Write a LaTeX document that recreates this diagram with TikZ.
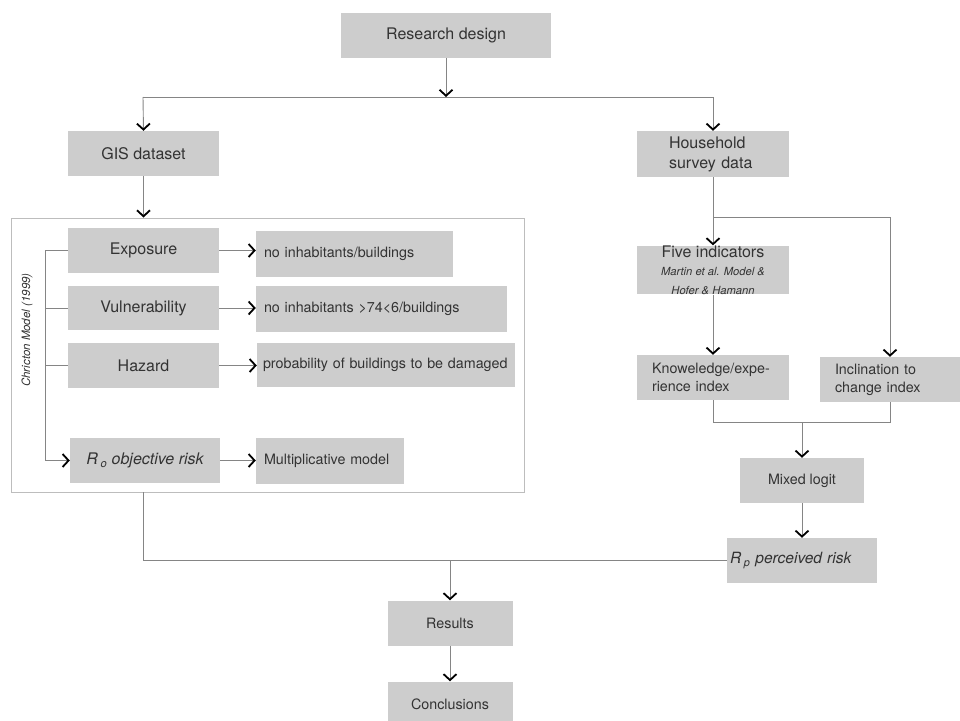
\documentclass[tikz,border=0pt]{standalone}
\usepackage{fontspec}
\setmainfont{TeX Gyre Heros}
\usetikzlibrary{arrows.meta}
\definecolor{boxgrey}{HTML}{CDCDCD}
\definecolor{linegrey}{HTML}{858585}
\definecolor{framegrey}{HTML}{BDBDBD}
\definecolor{txt}{HTML}{333333}
\begin{document}
\begin{tikzpicture}[x=1pt,y=-1pt,
  box/.style={fill=boxgrey, draw=none, inner sep=0pt, text=txt,
    font=\fontsize{16}{20}\selectfont, align=center},
  sbox/.style={box, font=\fontsize{14.3}{18}\selectfont},
  lbox/.style={sbox, align=left},
  conn/.style={draw=linegrey, line width=0.9pt},
  arr/.style={conn, -{Straight Barb[length=6pt,width=13pt,line width=1.8pt,color=black]}},
  framebox/.style={draw=framegrey, line width=1pt, fill=none, inner sep=0pt},
  sidelabel/.style={text=txt, font=\itshape\fontsize{11.5}{13}\selectfont, rotate=90, inner sep=0pt}
]
\useasboundingbox (0,0) rectangle (960,720);

% top
\node[box, minimum width=210, minimum height=45] (rd) at (446,35.5) {Research design};
\coordinate (jt) at (446,97);
\coordinate (jl) at (143,97);
\coordinate (jr) at (713,97);

\node[box, minimum width=151, minimum height=45] (gis) at (143.5,153.5) {GIS dataset};
\node[box, align=left, minimum width=152, minimum height=46, text width=88, inner xsep=32] (hh) at (713,154) {Household\\survey data};

\draw[arr] (rd.south) -- (jt);
\draw[conn] (jl) -- (jr);
\draw[arr] (jl) -- (gis.north);
\draw[arr] (jr) -- (hh.north);

% left frame
\node[framebox, minimum width=513, minimum height=274] (frame) at (267.5,355) {};
\draw[arr] (gis.south) -- (gis.south |- frame.north);

\node[box, minimum width=151, minimum height=45] (ex) at (143.5,250.5) {Exposure};
\node[box, minimum width=151, minimum height=44] (vu) at (143.5,308) {Vulnerability};
\node[box, minimum width=151, minimum height=45] (hz) at (143.5,365.5) {Hazard};
\node[box, minimum width=150, minimum height=45] (ro) at (145,460.5) {\itshape R\,\textsubscript{o} objective risk};

\node[lbox, minimum width=189, minimum height=46, text width=181, inner xsep=8] (e1) at (354.5,254) {no inhabitants/buildings};
\node[lbox, minimum width=243, minimum height=46, text width=235, inner xsep=8] (e2) at (381.5,309) {no inhabitants >74<6/buildings};
\node[lbox, minimum width=252, minimum height=44, text width=246, inner xsep=6] (e3) at (386,365) {probability of buildings to be damaged};
\node[lbox, minimum width=140, minimum height=46, text width=132, inner xsep=8] (e4) at (330,461) {Multiplicative model};

\draw[arr] (ex.east) -- (ex.east -| e1.west);
\draw[arr] (vu.east) -- (vu.east -| e2.west);
\draw[arr] (hz.east) -- (hz.east -| e3.west);
\draw[arr] (ro.east) -- (ro.east -| e4.west);

\coordinate (bt) at (45,250.5);
\draw[conn] (ex.west) -- (bt);
\draw[arr] (bt) |- (ro.west);
\draw[conn] (vu.west) -- (vu.west -| bt);
\draw[conn] (hz.west) -- (hz.west -| bt);
\node[sidelabel] (chr) at (27,330) {Chricton Model (1999)};

% right side
\coordinate (js) at (713,217);
\coordinate (jsr) at (890,217);
\node[box, minimum width=152, minimum height=46] (fi) at (713,270)
  {\fontsize{16}{15}\selectfont Five indicators\\[-2pt]
   {\itshape\fontsize{11.2}{13}\selectfont Martin et al. Model \&}\\[-1pt]
   {\itshape\fontsize{11.2}{13}\selectfont Hofer \& Hamann}};
\node[lbox, minimum width=152, minimum height=45, text width=122, inner xsep=15] (kn) at (713,377.5) {Knoweledge/expe-\\rience index};
\node[lbox, minimum width=140, minimum height=45, text width=110, inner xsep=15] (inc) at (890,379.5) {Inclination to\\change index};

\draw[conn] (hh.south) -- (js) -- (jsr);
\draw[arr] (js) -- (fi.north);
\draw[arr] (jsr) -- (inc.north);
\draw[arr] (fi.south) -- (kn.north);

\node[sbox, minimum width=124, minimum height=45] (ml) at (802,480.5) {Mixed logit};
\coordinate (jk) at (713,422);
\coordinate (ji) at (890,422);
\coordinate (jm) at (802,422);
\draw[conn] (kn.south) -- (jk) -- (ji) -- (inc.south);
\draw[arr] (jm) -- (ml.north);

\node[box, align=left, font=\itshape\fontsize{15.5}{18}\selectfont, minimum width=150, minimum height=45, text width=144, inner xsep=3] (rp) at (802,560.5) {R\,\textsubscript{p} perceived risk};
\draw[arr] (ml.south) -- (rp.north);

% bottom
\coordinate (fb) at (143,492);
\coordinate (fc) at (143,560.5);
\coordinate (jb) at (450,560.5);
\draw[conn] (fb) -- (fc) -- (rp.west);

\node[sbox, minimum width=125, minimum height=45] (res) at (450,623) {Results};
\node[sbox, minimum width=125, minimum height=45] (con) at (450,704) {Conclusions};
\draw[arr] (jb) -- (res.north);
\draw[arr] (res.south) -- (con.north);
\end{tikzpicture}
\end{document}
